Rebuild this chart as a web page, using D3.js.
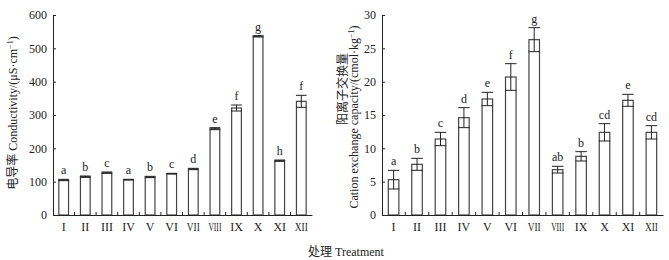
<!DOCTYPE html>
<html>
<head>
<meta charset="utf-8">
<script src="https://cdn.jsdelivr.net/npm/d3@7"></script>
<style>
  body { margin: 0; background: #fff; }
  svg text { font-family: "Liberation Serif", "Noto Sans CJK SC", serif; fill: #222; }
</style>
</head>
<body>
<svg id="chart" width="669" height="260"></svg>
<script>
const treatments = ["I", "II", "III", "IV", "V", "VI", "VII", "VIII", "IX", "X", "XI", "XII"];

const conductivity = [105, 115, 127, 106, 114, 124, 138, 259, 321, 536, 163, 341];
const conductivityErr = [2, 2, 2, 1, 2, 1, 2, 3, 9, 2, 2, 18];
const conductivityLetters = ["a", "b", "c", "a", "b", "c", "d", "e", "f", "g", "h", "f"];
const conductivityTicks = [0, 100, 200, 300, 400, 500, 600];

const cec = [5.3, 7.6, 11.4, 14.6, 17.4, 20.7, 26.3, 6.8, 8.8, 12.4, 17.2, 12.4];
const cecErr = [1.4, 0.9, 1.0, 1.5, 1.0, 2.0, 1.8, 0.5, 0.7, 1.3, 0.9, 1.0];
const cecLetters = ["a", "b", "c", "d", "e", "f", "g", "ab", "b", "cd", "e", "cd"];
const cecTicks = [0, 5, 10, 15, 20, 25, 30];

const svg = d3.select("#chart");
const plotTop = 15, plotBottom = 215;

function drawPanel(opt) {
  const x = d3.scaleBand()
    .domain(treatments)
    .range([opt.left, opt.right])
    .paddingInner(0.55)
    .paddingOuter(0.27);

  const y = d3.scaleLinear()
    .domain([0, opt.max])
    .range([plotBottom, plotTop]);

  const g = svg.append("g");
  const rows = treatments.map((t, i) => ({ t, v: opt.values[i], e: opt.errs[i], l: opt.letters[i] }));

  // bars
  g.selectAll(".bar")
    .data(rows)
    .join("rect")
    .attr("x", (d) => x(d.t))
    .attr("y", (d) => y(d.v))
    .attr("width", x.bandwidth())
    .attr("height", (d) => y(0) - y(d.v))
    .attr("fill", "#fff")
    .attr("stroke", "#444")
    .attr("stroke-width", 1.2);

  // error bars
  const cx = (d) => x(d.t) + x.bandwidth() / 2;
  const cap = x.bandwidth() / 2 + 0.5;
  const eb = g.selectAll(".err").data(rows).join("g").attr("stroke", "#222").attr("stroke-width", 1);
  eb.append("line")
    .attr("x1", cx).attr("x2", cx)
    .attr("y1", (d) => y(d.v - d.e)).attr("y2", (d) => y(d.v + d.e));
  eb.append("line")
    .attr("x1", (d) => cx(d) - cap).attr("x2", (d) => cx(d) + cap)
    .attr("y1", (d) => y(d.v + d.e)).attr("y2", (d) => y(d.v + d.e));
  eb.append("line")
    .attr("x1", (d) => cx(d) - cap).attr("x2", (d) => cx(d) + cap)
    .attr("y1", (d) => y(d.v - d.e)).attr("y2", (d) => y(d.v - d.e));

  // significance letters
  g.selectAll(".lab")
    .data(rows)
    .join("text")
    .attr("x", cx)
    .attr("y", (d) => y(d.v + d.e) - 5)
    .attr("text-anchor", "middle")
    .style("font-size", "12px")
    .text((d) => d.l);

  // y axis
  const yAxis = g.append("g")
    .attr("transform", `translate(${opt.left},0)`)
    .call(d3.axisLeft(y).tickValues(opt.ticks).tickSize(-3).tickPadding(6).tickSizeOuter(0));
  yAxis.selectAll("path, line").attr("stroke", "#222");
  yAxis.selectAll("text").style("font-size", "12px").attr("fill", "#222");

  // x axis with inward ticks between bars
  const xAxis = g.append("g")
    .attr("transform", `translate(0,${plotBottom})`)
    .call(d3.axisBottom(x).tickSize(0).tickPadding(7).tickSizeOuter(0));
  xAxis.select("path").attr("stroke", "#222");
  xAxis.selectAll("text").style("font-size", "12px").attr("fill", "#222")
    .each(function () {
      const w = this.getComputedTextLength();
      if (w > 13) d3.select(this).attr("textLength", 13).attr("lengthAdjust", "spacingAndGlyphs");
    });
  g.selectAll(".sep")
    .data(treatments.slice(1))
    .join("line")
    .attr("x1", (d) => x(d) - x.step() * x.paddingInner() / 2)
    .attr("x2", (d) => x(d) - x.step() * x.paddingInner() / 2)
    .attr("y1", plotBottom)
    .attr("y2", plotBottom - 3)
    .attr("stroke", "#222");

  return g;
}

drawPanel({ left: 53, right: 312, max: 600, values: conductivity, errs: conductivityErr, letters: conductivityLetters, ticks: conductivityTicks });
drawPanel({ left: 382, right: 663, max: 30, values: cec, errs: cecErr, letters: cecLetters, ticks: cecTicks });

// axis titles
const lt = svg.append("text")
  .attr("transform", "translate(17,113) rotate(-90)")
  .attr("text-anchor", "middle")
  .style("font-size", "12px");
lt.append("tspan").text("电导率 Conductivity/(μS·cm");
lt.append("tspan").attr("dy", -4).style("font-size", "8px").text("−1");
lt.append("tspan").attr("dy", 4).text(")");

svg.append("text")
  .attr("transform", "translate(347,89) rotate(-90)")
  .attr("text-anchor", "middle")
  .style("font-size", "12px")
  .text("阳离子交换量");

const rt = svg.append("text")
  .attr("transform", "translate(358,117) rotate(-90)")
  .attr("text-anchor", "middle")
  .style("font-size", "12px");
rt.append("tspan").text("Cation exchange capacity/(cmol·kg");
rt.append("tspan").attr("dy", -4).style("font-size", "8px").text("−1");
rt.append("tspan").attr("dy", 4).text(")");

svg.append("text")
  .attr("x", 346)
  .attr("y", 256)
  .attr("text-anchor", "middle")
  .style("font-size", "12px")
  .text("处理 Treatment");
</script>
</body>
</html>
